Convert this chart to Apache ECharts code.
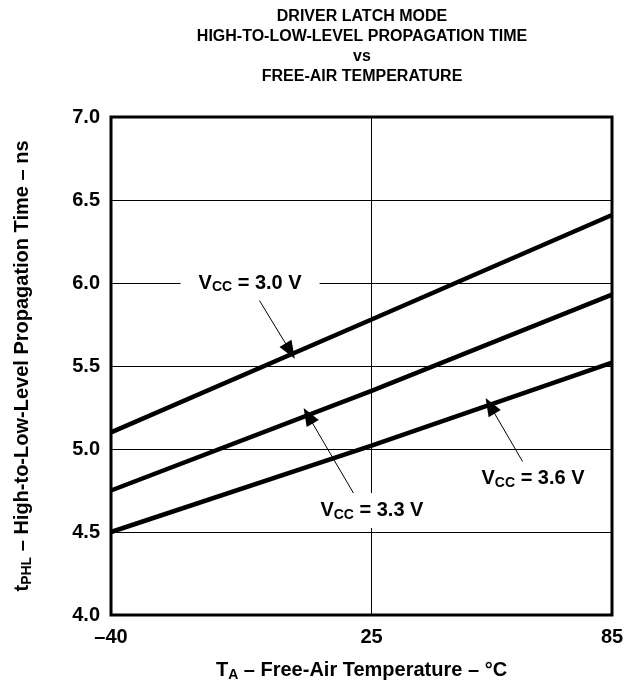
<!DOCTYPE html>
<html>
<head>
<meta charset="utf-8">
<script src="https://cdn.jsdelivr.net/npm/echarts@6/dist/echarts.min.js"></script>
<style>
  html, body { margin: 0; padding: 0; background: #fff; }
  #chart { width: 637px; height: 687px; }
</style>
</head>
<body>
<div id="chart"></div>
<script>
// temperature points (°C) where values were read
const temps = [-40, 25, 85];
// propagation time (ns) per supply voltage
const vcc30 = [5.10, 5.78, 6.41];
const vcc33 = [4.75, 5.35, 5.93];
const vcc36 = [4.50, 5.02, 5.52];
const seriesNames = ['VCC = 3.0 V', 'VCC = 3.3 V', 'VCC = 3.6 V'];
const voltLabels = ['3.0', '3.3', '3.6'];

// annotation label anchors and arrows, in data units [temp, ns]
const labelAt = [[-5.3, 6.0], [25.1, 4.63], [65.3, 4.82]];
const arrowFrom = [[-3.1, 5.90], [20.6, 4.73], [62.8, 4.92]];
const arrowTo = [[4.7, 5.59], [9.2, 5.20], [54.6, 5.26]];

const FONT = '"Liberation Sans", Arial, Helvetica, sans-serif';

const chart = echarts.init(document.getElementById('chart'));

const richV = {
  b: { fontFamily: FONT, fontWeight: 'bold', fontSize: 20, color: '#000' },
  s: { fontFamily: FONT, fontWeight: 'bold', fontSize: 14, color: '#000', padding: [9, 0, 0, 0] }
};

const allData = [vcc30, vcc33, vcc36];

const series = allData.map((vals, i) => ({
  name: seriesNames[i],
  type: 'line',
  data: temps.map((t, k) => [t, vals[k]]),
  symbol: 'none',
  lineStyle: { color: '#000', width: 4.5 },
  silent: true,
  z: 3,
  markLine: {
    silent: true,
    symbol: ['none', 'triangle'],
    symbolSize: [14, 18],
    lineStyle: { color: '#000', width: 1, type: 'solid' },
    label: { show: false },
    data: [[{ coord: arrowFrom[i] }, { coord: arrowTo[i] }]]
  },
  markPoint: {
    silent: true,
    symbolSize: 0,
    data: [{ coord: labelAt[i] }],
    label: {
      show: true,
      position: 'inside',
      backgroundColor: '#fff',
      padding: [6, 18],
      formatter: () => '{b|V}{s|CC}{b| = ' + voltLabels[i] + ' V}',
      rich: richV
    }
  }
}));

const option = {
  backgroundColor: '#fff',
  animation: false,
  title: {
    text: 'DRIVER LATCH MODE\nHIGH-TO-LOW-LEVEL PROPAGATION TIME\nvs\nFREE-AIR TEMPERATURE',
    left: 362,
    top: 7,
    padding: 0,
    textAlign: 'center',
    textStyle: { fontFamily: FONT, fontWeight: 'bold', fontSize: 16, lineHeight: 20, color: '#000' }
  },
  grid: {
    left: 111, right: 25, top: 117, bottom: 69,
    show: true, borderColor: '#000', borderWidth: 3, backgroundColor: 'transparent'
  },
  xAxis: {
    type: 'value',
    min: -40, max: 85, interval: 65,
    axisLine: { show: false },
    axisTick: { show: false },
    splitLine: { show: true, lineStyle: { color: '#000', width: 1 } },
    axisLabel: {
      margin: 12,
      fontFamily: FONT, fontWeight: 'bold', fontSize: 20, color: '#000',
      formatter: v => (v < 0 ? '\u2013' + Math.abs(v) : String(v))
    },
    name: '{b|T}{s|A}{b| \u2013 Free-Air Temperature \u2013 \u00b0C}',
    nameLocation: 'middle',
    nameGap: 44,
    nameTextStyle: { rich: richV }
  },
  yAxis: {
    type: 'value',
    min: 4, max: 7, interval: 0.5,
    axisLine: { show: false },
    axisTick: { show: false },
    splitLine: { show: true, lineStyle: { color: '#000', width: 1 } },
    axisLabel: {
      margin: 11,
      fontFamily: FONT, fontWeight: 'bold', fontSize: 20, color: '#000',
      formatter: v => v.toFixed(1)
    },
    name: '{b|t}{s|PHL}{b| \u2013 High-to-Low-Level Propagation Time \u2013 ns}',
    nameLocation: 'middle',
    nameRotate: 90,
    nameGap: 77,
    nameTextStyle: { rich: richV }
  },
  series: series
};

chart.setOption(option);
window.addEventListener('resize', () => chart.resize());
</script>
</body>
</html>
